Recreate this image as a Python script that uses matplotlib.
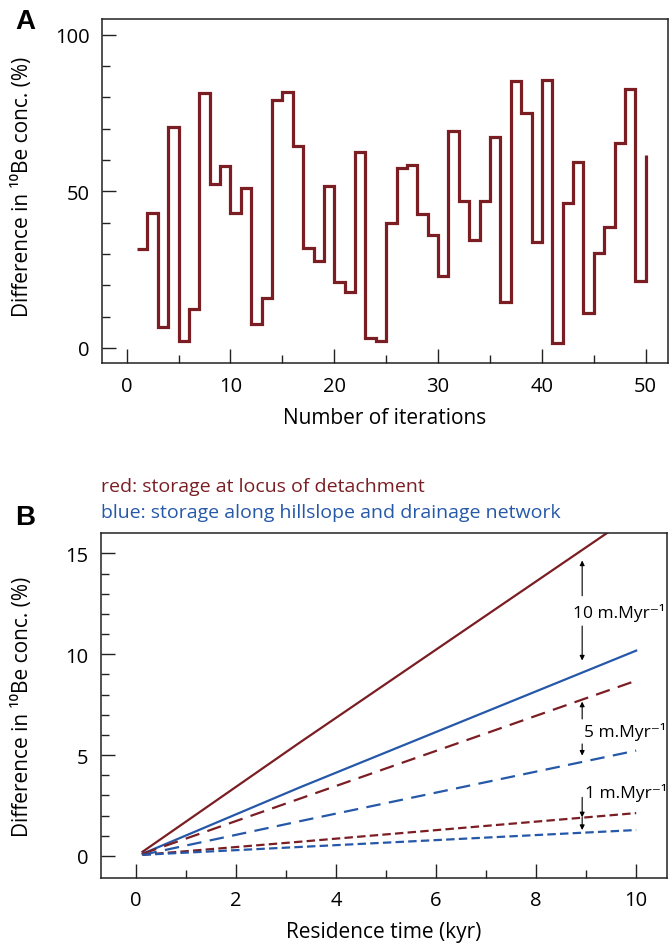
import matplotlib
matplotlib.use("Agg")
import matplotlib.pyplot as plt
from matplotlib.ticker import MultipleLocator, FixedLocator

plt.rcParams['font.family'] = ['Open Sans', 'DejaVu Sans']

# ---------------- data ----------------
iterations = list(range(1, 51))
diff_pct = [31.5, 43.0, 6.6, 70.4, 2.1, 12.4, 81.4, 52.3, 58.2, 43.0,
            51.1, 7.7, 15.9, 79.2, 81.6, 64.4, 31.9, 27.7, 51.8, 21.0,
            17.8, 62.7, 3.2, 2.1, 39.9, 57.4, 58.5, 42.8, 36.1, 23.1,
            69.2, 46.8, 34.5, 47.0, 67.2, 14.6, 85.3, 75.0, 33.9, 85.5,
            1.6, 46.3, 59.3, 11.1, 30.2, 38.5, 65.3, 82.7, 21.3, 61.6]

res_time = [0.13, 3.28, 10.0]
red_10 = [0.2, 5.63, 17.0]
blue_10 = [0.1, 3.40, 10.18]
red_5 = [0.1, 2.84, 8.69]
blue_5 = [0.05, 1.72, 5.22]
red_1 = [0.05, 0.70, 2.12]
blue_1 = [0.05, 0.44, 1.28]

RED = '#7b1e24'
BLUE = '#2558a8'
W, H = 669, 945

fig = plt.figure(figsize=(W / 100, H / 100), dpi=100)

def frac(l, t, r, b):
    return [l / W, 1 - b / H, (r - l) / W, (b - t) / H]

def style(ax):
    for s in ax.spines.values():
        s.set_linewidth(1.1)
        s.set_color('#222222')
    ax.tick_params(which='both', direction='in', top=False, right=False,
                   width=1.0, color='#222222', labelsize=14.5, pad=9)
    ax.tick_params(which='major', length=10)
    ax.tick_params(which='minor', length=5.5)

YLABEL = 'Difference in \u00b9\u2070Be conc. (%)'

# ---------------- panel A ----------------
axA = fig.add_axes(frac(102, 20, 668, 364.3))
axA.step(iterations, diff_pct, where='post', color=RED, lw=2.3,
         solid_joinstyle='miter', solid_capstyle='butt')
axA.set_xlim(-2.38, 52.15)
axA.set_ylim(-4.9, 105)
axA.xaxis.set_major_locator(MultipleLocator(10))
axA.xaxis.set_minor_locator(MultipleLocator(5))
axA.yaxis.set_major_locator(FixedLocator([0, 50, 100]))
axA.yaxis.set_minor_locator(FixedLocator(list(range(0, 101, 10))))
style(axA)
axA.set_xlabel('Number of iterations', fontsize=15, va='center')
axA.xaxis.set_label_coords(0.5, -(418 - 364.3) / 344.3)
axA.set_ylabel(YLABEL, fontsize=15, va='center')
axA.yaxis.set_label_coords((23 - 102) / 566, 0.516)
fig.text(25 / W, 1 - 22 / H, 'A', fontsize=20, fontweight='bold',
         family=['Liberation Sans', 'DejaVu Sans'], ha='center', va='center')

# ---------------- panel B ----------------
axB = fig.add_axes(frac(101, 534.3, 666.7, 879))
axB.plot(res_time, red_10, color=RED, lw=1.6)
axB.plot(res_time, blue_10, color=BLUE, lw=1.6)
axB.plot(res_time, red_5, color=RED, lw=1.6, dashes=(6.5, 3.8))
axB.plot(res_time, blue_5, color=BLUE, lw=1.6, dashes=(6.5, 3.8))
axB.plot(res_time, red_1, color=RED, lw=1.6, dashes=(3.8, 1.9))
axB.plot(res_time, blue_1, color=BLUE, lw=1.6, dashes=(3.8, 1.9))
axB.set_xlim(-0.7, 10.61)
axB.set_ylim(-1.1, 16.0)
axB.xaxis.set_major_locator(MultipleLocator(2))
axB.xaxis.set_minor_locator(FixedLocator(list(range(0, 11))))
axB.yaxis.set_major_locator(MultipleLocator(5))
axB.yaxis.set_minor_locator(FixedLocator(list(range(0, 16))))
style(axB)
axB.set_xlabel('Residence time (kyr)', fontsize=15, va='center')
axB.xaxis.set_label_coords(0.5, -(933 - 879) / 344.7)
axB.set_ylabel(YLABEL, fontsize=15, va='center')
axB.yaxis.set_label_coords((23 - 101) / 565.7, 0.5)

arrow = dict(arrowstyle='-|>', color='black', lw=0.8, mutation_scale=7,
             shrinkA=0, shrinkB=0)
xa = 8.92
for y0, y1 in [(12.9, 14.65), (11.4, 9.69), (6.79, 7.65), (5.55, 4.97),
               (2.9, 1.91), (1.91, 1.28)]:
    axB.annotate('', xy=(xa, y1), xytext=(xa, y0), arrowprops=arrow)
ann_kw = dict(fontsize=12.5, ha='left', va='center')
axB.text(8.74, 12.1, '10 m.Myr\u207b\u00b9', **ann_kw)
axB.text(8.96, 6.18, '5 m.Myr\u207b\u00b9', **ann_kw)
axB.text(8.98, 3.15, '1 m.Myr\u207b\u00b9', **ann_kw)

fig.text(101 / W, 1 - 487 / H, 'red: storage at locus of detachment',
         color=RED, fontsize=14, ha='left', va='center')
fig.text(101 / W, 1 - 513 / H, 'blue: storage along hillslope and drainage network',
         color=BLUE, fontsize=14, ha='left', va='center')
fig.text(25 / W, 1 - 518 / H, 'B', fontsize=20, fontweight='bold',
         family=['Liberation Sans', 'DejaVu Sans'], ha='center', va='center')

fig.savefig('out.png', dpi=100)
